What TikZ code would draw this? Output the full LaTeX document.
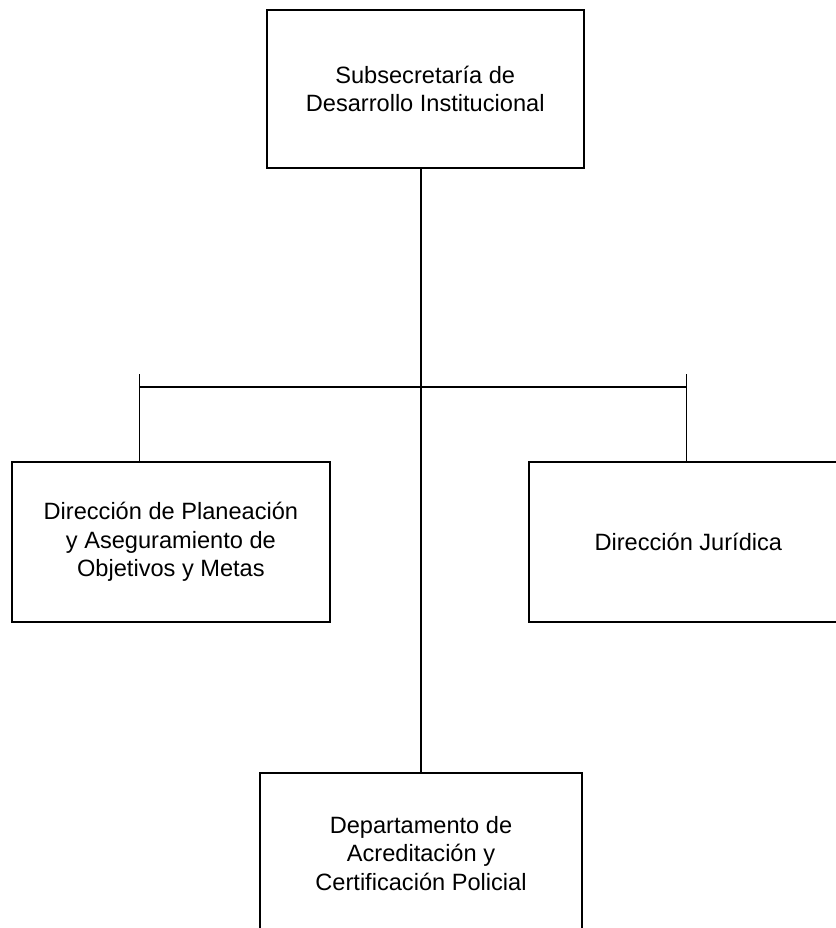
\documentclass[tikz,border=0pt]{standalone}
\usepackage{fontspec}
\setmainfont{Liberation Sans}
\begin{document}
\begin{tikzpicture}[x=1pt,y=-1pt,
  orgbox/.style={draw=black, line width=1.8pt, fill=white, align=center, inner sep=0pt,
    font=\fontsize{23.6}{28.6}\selectfont},
  conn/.style={draw=black, line width=1.3pt},
  connthick/.style={draw=black, line width=1.8pt}]
\useasboundingbox (0,0) rectangle (835,928);
\node[orgbox, minimum width=317pt, minimum height=158pt] (top) at (425.2,89) {Subsecretaría de\\Desarrollo Institucional};
\node[orgbox, minimum width=318pt, minimum height=159.5pt] (left) at (170.9,541.9) {Dirección de Planeación\\y Aseguramiento de\\Objetivos y Metas};
\node[orgbox, minimum width=318pt, minimum height=159.5pt] (right) at (688.3,541.9) {Dirección Jurídica};
\node[orgbox, minimum width=322pt, minimum height=160pt] (bottom) at (421,853.3) {Departamento de\\Acreditación y\\Certificación Policial};
\coordinate (j) at (421,373);
\coordinate (bl) at (139.5,387);
\coordinate (br) at (686.5,387);
\coordinate (lt) at (139.5,374);
\coordinate (rt) at (686.5,374);
\draw[connthick] (top.south -| j) -- (j);
\draw[conn] (bl) -- (br);
\draw[connthick] (lt) -- (lt |- left.north);
\draw[connthick] (rt) -- (rt |- right.north);
\draw[conn] (j) -- (bottom.north);
\end{tikzpicture}
\end{document}
